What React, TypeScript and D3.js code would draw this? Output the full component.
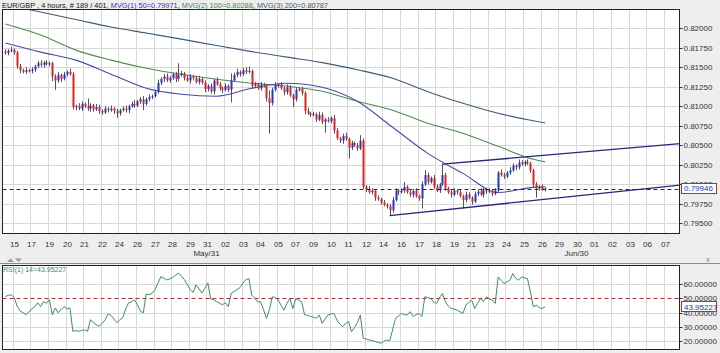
import React, { useEffect, useRef } from 'react';
import * as d3 from 'd3';

const W = 720;
const H = 353;

// 4h closes, EUR/GBP (open = previous close)
const firstOpen = 0.8170;
const closes = [
  0.8168, 0.8171, 0.8172, 0.8169, 0.8151, 0.8146, 0.8144, 0.8146, 0.8145, 0.8147,
  0.8151, 0.8155, 0.8153, 0.8156, 0.8154, 0.8155, 0.8138, 0.8133, 0.8140, 0.8135,
  0.8141, 0.8144, 0.8141, 0.8099, 0.8100, 0.8097, 0.8103, 0.8100, 0.8097, 0.8101,
  0.8096, 0.8099, 0.8094, 0.8092, 0.8097, 0.8095, 0.8097, 0.8094, 0.8091, 0.8095,
  0.8097, 0.8095, 0.8100, 0.8103, 0.8101, 0.8106, 0.8109, 0.8103, 0.8109, 0.8112,
  0.8113, 0.8118, 0.8130, 0.8135, 0.8138, 0.8133, 0.8136, 0.8141, 0.8135, 0.8140,
  0.8142, 0.8136, 0.8133, 0.8138, 0.8136, 0.8131, 0.8135, 0.8130, 0.8122, 0.8126,
  0.8119, 0.8133, 0.8128, 0.8123, 0.8121, 0.8126, 0.8121, 0.8133, 0.8140, 0.8144,
  0.8141, 0.8146, 0.8144, 0.8145, 0.8126, 0.8128, 0.8123, 0.8127, 0.8126, 0.8110,
  0.8104, 0.8121, 0.8127, 0.8128, 0.8123, 0.8118, 0.8124, 0.8114, 0.8109, 0.8121,
  0.8122, 0.8117, 0.8094, 0.8091, 0.8089, 0.8090, 0.8083, 0.8089, 0.8080, 0.8083,
  0.8081, 0.8085, 0.8069, 0.8059, 0.8056, 0.8062, 0.8058, 0.8047, 0.8053, 0.8050,
  0.8046, 0.8056, 0.7997, 0.7994, 0.7990, 0.7992, 0.7983, 0.7981, 0.7977, 0.7974,
  0.7972, 0.7967, 0.7980, 0.7992, 0.7990, 0.7992, 0.7997, 0.7990, 0.7987, 0.7992,
  0.7985, 0.7982, 0.8000, 0.8012, 0.8003, 0.8008, 0.7997, 0.7992, 0.8000, 0.8012,
  0.7995, 0.7990, 0.7987, 0.7992, 0.7990, 0.7985, 0.7980, 0.7987, 0.7983, 0.7978,
  0.7988, 0.7991, 0.7987, 0.7994, 0.7991, 0.7992, 0.7988, 0.7992, 0.8015, 0.8012,
  0.8010, 0.8015, 0.8018, 0.8024, 0.8022, 0.8028, 0.8026, 0.8029, 0.8027, 0.8018,
  0.8000, 0.7995, 0.7997, 0.7994, 0.79946,
];
// wick lengths in pips above / below the body
const wickUp = [
  3, 2, 4, 2, 2, 3, 2, 4, 2, 3, 2, 3, 4, 2, 3, 2, 2, 3, 4, 2,
  3, 2, 4, 3, 2, 4, 3, 2, 10, 3, 2, 4, 3, 2, 3, 2, 4, 2, 3, 2,
  3, 4, 2, 3, 5, 2, 3, 4, 2, 3, 2, 3, 4, 2, 3, 4, 3, 2, 3, 15,
  3, 2, 4, 3, 2, 3, 4, 2, 3, 2, 3, 2, 4, 3, 2, 3, 2, 9, 3, 4,
  2, 3, 4, 6, 2, 3, 2, 4, 3, 2, 10, 3, 4, 2, 3, 2, 4, 3, 2, 3,
  2, 3, 2, 4, 2, 3, 2, 4, 3, 2, 3, 2, 4, 3, 2, 3, 4, 2, 3, 2,
  3, 7, 3, 2, 4, 3, 2, 3, 2, 3, 2, 3, 4, 3, 2, 3, 6, 2, 3, 2,
  3, 2, 4, 6, 3, 2, 4, 3, 2, 14, 3, 2, 4, 3, 2, 3, 2, 4, 3, 2,
  3, 2, 4, 3, 2, 3, 2, 3, 2, 4, 3, 2, 4, 3, 2, 4, 3, 2, 3, 2,
  2, 3, 2, 3, 2,
];
const wickDn = [
  2, 3, 2, 3, 3, 4, 2, 3, 2, 3, 3, 2, 3, 4, 2, 3, 6, 12, 3, 4,
  2, 3, 2, 3, 4, 2, 3, 2, 3, 4, 3, 2, 4, 3, 2, 3, 2, 4, 6, 3,
  2, 3, 4, 2, 3, 2, 3, 8, 2, 3, 3, 2, 2, 3, 4, 2, 3, 2, 4, 3,
  2, 3, 2, 4, 3, 2, 3, 2, 4, 3, 3, 4, 2, 3, 4, 2, 3, 16, 2, 3,
  3, 2, 3, 2, 4, 3, 2, 3, 2, 4, 39, 3, 2, 3, 2, 4, 3, 2, 10, 3,
  2, 3, 4, 2, 3, 2, 3, 2, 3, 14, 2, 3, 4, 2, 3, 4, 2, 14, 3, 2,
  3, 2, 3, 4, 2, 3, 4, 2, 3, 2, 3, 7, 3, 2, 4, 2, 3, 2, 3, 4,
  2, 3, 13, 2, 3, 2, 3, 2, 3, 2, 3, 2, 4, 2, 3, 2, 11, 3, 2, 4,
  2, 3, 2, 4, 3, 2, 3, 2, 3, 2, 3, 2, 3, 2, 4, 3, 2, 3, 2, 3,
  4, 12, 3, 2, 3,
];

const rsiValues = [
  51.2, 52.0, 52.4, 50.5, 44.5, 41.0, 40.0, 38.5, 40.5, 42.5,
  44.0, 46.8, 44.2, 47.7, 46.5, 48.9, 38.5, 43.3, 39.8, 42.0,
  44.2, 42.5, 43.3, 26.9, 27.5, 26.9, 27.5, 28.0, 26.9, 35.0,
  32.9, 31.5, 30.4, 32.5, 35.0, 39.0, 38.0, 35.5, 32.9, 35.0,
  36.4, 42.5, 46.8, 47.5, 48.9, 45.5, 41.0, 39.8, 53.0, 52.4,
  53.5, 56.0, 60.5, 65.1, 64.0, 62.8, 63.5, 64.5, 66.0, 67.6,
  65.5, 63.0, 59.5, 56.0, 54.0, 59.3, 56.5, 53.6, 57.0, 60.7,
  49.5, 48.9, 47.7, 46.5, 45.4, 46.8, 44.2, 53.6, 54.7, 56.0,
  57.5, 60.5, 63.0, 63.7, 52.1, 50.0, 47.5, 47.5, 42.0, 35.9,
  42.0, 51.0, 50.5, 48.7, 45.0, 41.7, 46.5, 49.8, 42.8, 49.8,
  48.5, 47.5, 38.3, 38.0, 37.3, 36.8, 35.9, 38.3, 32.5, 35.5,
  38.3, 39.0, 39.4, 34.8, 32.0, 30.1, 32.5, 33.6, 26.7, 29.5,
  33.0, 38.3, 22.0, 21.5, 20.9, 20.5, 19.8, 19.2, 18.6, 19.8,
  20.9, 20.2, 27.8, 35.9, 37.5, 39.4, 38.5, 38.3, 40.6, 37.1,
  38.5, 39.4, 37.1, 51.0, 50.5, 49.8, 47.5, 46.3, 50.5, 53.3,
  47.5, 44.5, 42.8, 42.5, 41.7, 40.5, 39.4, 45.2, 47.0, 48.7,
  42.8, 46.5, 49.8, 47.5, 51.0, 49.5, 48.7, 46.3, 64.9, 62.5,
  60.2, 61.5, 62.6, 67.2, 64.0, 62.6, 64.9, 64.3, 63.7, 54.4,
  44.0, 45.2, 43.5, 42.8, 43.95,
];

// moving averages read at every 12th bar
const maBars = [0, 12, 24, 36, 48, 60, 72, 84, 96, 108, 120, 132, 144, 156, 168, 180, 184];
const ma50 = [0.81808, 0.81692, 0.81590, 0.81410, 0.81231, 0.81154, 0.81128, 0.81231, 0.81295, 0.81244, 0.81064, 0.80731, 0.80397, 0.80141, 0.79897, 0.79962, 0.79971];
const ma100 = [0.82051, 0.81910, 0.81718, 0.81590, 0.81487, 0.81410, 0.81346, 0.81295, 0.81256, 0.81192, 0.81064, 0.80949, 0.80782, 0.80654, 0.80487, 0.80321, 0.80288];
const ma200 = [0.82299, 0.82205, 0.82109, 0.82013, 0.81936, 0.81859, 0.81776, 0.81699, 0.81628, 0.81558, 0.81467, 0.81359, 0.81186, 0.81038, 0.80910, 0.80814, 0.80787];

const priceTicks = [0.795, 0.7975, 0.8, 0.8025, 0.805, 0.8075, 0.81, 0.8125, 0.815, 0.8175, 0.82];
const rsiTicks = [20, 30, 40, 50, 60];
const dayLabels = [
  '15', '17', '19', '20', '21', '22', '24', '26', '27', '28', '29', '31', '02', '03', '04', '05', '07', '09', '10',
  '11', '12', '14', '16', '17', '18', '19', '21', '23', '24', '25', '26', '29', '30', '01', '02', '03', '06', '07',
];
const monthLabels = [{ text: 'May/31', day: 11 }, { text: 'Jun/30', day: 32 }];

// drawn trend lines [bar, price]
const trendLines = [
  [[149, 0.8026], [230, 0.80523]],
  [[131, 0.7960], [230, 0.79992]],
];
const lastPrice = 0.79946;
const lastRsi = 43.95227;

const titleParts = [
  ['EUR/GBP , 4 hours, # 189 / 401, ', '#111'],
  ['MVG(1) 50=0.79971', '#3535b5'],
  [', ', '#111'],
  ['MVG(2) 100=0.80288', '#3f8a3f'],
  [', ', '#111'],
  ['MVG(3) 200=0.80787', '#33607a'],
];

const FONT = 'Liberation Sans, Arial, sans-serif';

export default function App() {
  const ref = useRef<SVGSVGElement>(null);

  useEffect(() => {
    const svg = d3.select(ref.current);
    svg.selectAll('*').remove();

    const main = { left: 2.5, right: 679.5, top: 9.5, bottom: 233.5 };
    const low = { top: 265.5, bottom: 349.5 };

    const x = d3.scaleLinear().domain([-1, 230]).range([2.5, 680]);
    const y = d3.scaleLinear().domain([0.79372, 0.82244]).range([main.bottom, main.top - 0.5]);
    const yr = d3.scaleLinear().domain([14.2, 73.2]).range([low.bottom, low.top - 0.5]);

    svg.append('rect').attr('width', W).attr('height', H).attr('fill', '#eeeeee');

    const defs = svg.append('defs');
    defs.append('clipPath').attr('id', 'clipMain').append('rect')
      .attr('x', main.left).attr('y', main.top).attr('width', main.right - main.left).attr('height', main.bottom - main.top);
    defs.append('clipPath').attr('id', 'clipLow').append('rect')
      .attr('x', main.left).attr('y', low.top).attr('width', main.right - main.left).attr('height', low.bottom - low.top);

    // panel backgrounds
    svg.append('rect').attr('x', main.left).attr('y', main.top)
      .attr('width', main.right - main.left).attr('height', main.bottom - main.top).attr('fill', '#fff');
    svg.append('rect').attr('x', main.left).attr('y', low.top)
      .attr('width', main.right - main.left).attr('height', low.bottom - low.top).attr('fill', '#fff');

    const dayX = dayLabels.map((_, k) => Math.round(x(2.5 + k * 6)) + 0.5);

    // grids
    const grid = svg.append('g').attr('stroke', '#d8d8d8').attr('stroke-width', 1);
    dayX.forEach(gx => {
      grid.append('line').attr('x1', gx).attr('x2', gx).attr('y1', main.top).attr('y2', main.bottom);
      grid.append('line').attr('x1', gx).attr('x2', gx).attr('y1', low.top).attr('y2', low.bottom);
    });
    priceTicks.forEach(p => {
      const gy = Math.round(y(p)) + 0.5;
      grid.append('line').attr('x1', main.left).attr('x2', main.right).attr('y1', gy).attr('y2', gy);
    });
    rsiTicks.filter(v => v !== 50).forEach(v => {
      const gy = Math.round(yr(v)) + 0.5;
      grid.append('line').attr('x1', main.left).attr('x2', main.right).attr('y1', gy).attr('y2', gy);
    });

    // moving averages
    const gMain = svg.append('g').attr('clip-path', 'url(#clipMain)');
    const maLine = (vals: number[]) => d3.line<number>()
      .x((_, i) => x(maBars[i]))
      .y(d => y(d))
      .curve(d3.curveMonotoneX)(vals);
    [[ma200, '#3d5c7a'], [ma100, '#4f8a4f'], [ma50, '#4a4aa8']].forEach(([vals, col]) => {
      gMain.append('path').attr('d', maLine(vals as number[]) as string)
        .attr('fill', 'none').attr('stroke', col as string).attr('stroke-width', 1.1);
    });

    // candles
    const candles = closes.map((c, i) => {
      const o = i === 0 ? firstOpen : closes[i - 1];
      return {
        i, o, c,
        h: Math.max(o, c) + wickUp[i] * 0.0001,
        l: Math.min(o, c) - wickDn[i] * 0.0001,
      };
    });
    const cg = gMain.append('g');
    candles.forEach(d => {
      const cx = Math.round(x(d.i)) + 0.5;
      cg.append('line').attr('x1', cx).attr('x2', cx).attr('y1', y(d.h)).attr('y2', y(d.l))
        .attr('stroke', '#555').attr('stroke-width', 1);
      const top = y(Math.max(d.o, d.c));
      const bot = y(Math.min(d.o, d.c));
      cg.append('rect').attr('x', cx - 1).attr('y', top).attr('width', 2)
        .attr('height', Math.max(1, bot - top))
        .attr('fill', d.c >= d.o ? '#2435d0' : '#e0231f');
    });

    // trend lines
    trendLines.forEach(([a, b]) => {
      gMain.append('line').attr('x1', x(a[0])).attr('y1', y(a[1])).attr('x2', x(b[0])).attr('y2', y(b[1]))
        .attr('stroke', '#26267a').attr('stroke-width', 1.3);
    });

    // last price dashed line
    const lpY = Math.round(y(lastPrice)) + 0.5;
    gMain.append('line').attr('x1', main.left).attr('x2', main.right).attr('y1', lpY).attr('y2', lpY)
      .attr('stroke', '#22228a').attr('stroke-width', 1).attr('stroke-dasharray', '4,3');

    // RSI
    const gLow = svg.append('g').attr('clip-path', 'url(#clipLow)');
    const r50 = Math.round(yr(50)) + 0.5;
    gLow.append('line').attr('x1', main.left).attr('x2', main.right).attr('y1', r50).attr('y2', r50)
      .attr('stroke', '#a33030').attr('stroke-width', 1).attr('stroke-dasharray', '4,3');
    gLow.append('path')
      .attr('d', d3.line<number>().x((_, i) => x(i)).y(d => yr(d))(rsiValues) as string)
      .attr('fill', 'none').attr('stroke', '#3a8f68').attr('stroke-width', 1);

    // panel borders
    [[main.top, main.bottom], [low.top, low.bottom]].forEach(([t, b]) => {
      svg.append('rect').attr('x', main.left).attr('y', t).attr('width', main.right - main.left)
        .attr('height', b - t).attr('fill', 'none').attr('stroke', '#222').attr('stroke-width', 1);
    });

    // right axes
    const axisG = svg.append('g').attr('font-family', FONT).attr('font-size', 8).attr('fill', '#333');
    priceTicks.forEach(p => {
      const ty = Math.round(y(p)) + 0.5;
      axisG.append('line').attr('x1', main.right).attr('x2', main.right + 3).attr('y1', ty).attr('y2', ty).attr('stroke', '#333');
      axisG.append('text').attr('x', main.right + 4).attr('y', ty).attr('dy', '0.35em').text(p.toFixed(5));
    });
    rsiTicks.forEach(v => {
      const ty = Math.round(yr(v)) + 0.5;
      axisG.append('line').attr('x1', main.right).attr('x2', main.right + 3).attr('y1', ty).attr('y2', ty).attr('stroke', '#333');
      axisG.append('text').attr('x', main.right + 4).attr('y', ty).attr('dy', '0.35em').text(v.toFixed(5));
    });

    // value boxes
    const box = (vy: number, txt: string) => {
      axisG.append('rect').attr('x', 681.5).attr('y', Math.round(vy) - 5.5).attr('width', 35).attr('height', 10)
        .attr('fill', '#fff').attr('stroke', '#b03030');
      axisG.append('text').attr('x', 684).attr('y', vy).attr('dy', '0.35em').attr('fill', '#2434b8').text(txt);
    };
    box(y(lastPrice), lastPrice.toFixed(5));
    box(yr(lastRsi), lastRsi.toFixed(5));

    // x labels
    const xl = svg.append('g').attr('font-family', FONT).attr('font-size', 8).attr('fill', '#333').attr('text-anchor', 'middle');
    dayLabels.forEach((t, k) => {
      xl.append('text').attr('x', dayX[k] + 1).attr('y', 246.5).text(t);
    });
    monthLabels.forEach(m => {
      xl.append('text').attr('x', dayX[m.day]).attr('y', 256).text(m.text);
    });

    // separator, arrows, close mark
    svg.append('line').attr('x1', 0).attr('x2', W).attr('y1', 263.5).attr('y2', 263.5).attr('stroke', '#8a8a8a');
    svg.append('path').attr('d', 'M7,262 L10.5,258.5 L14,262 Z').attr('fill', '#8d9aa8');
    svg.append('path').attr('d', 'M15,258.5 L22,258.5 L18.5,262 Z').attr('fill', '#8d9aa8');
    svg.append('text').attr('x', 708).attr('y', 262).attr('font-family', FONT).attr('font-size', 8)
      .attr('fill', '#8a8a8a').attr('text-anchor', 'middle').text('x');

    // title: separate pieces laid out one after another, scaled to fit 326px
    const tg = svg.append('g').attr('font-family', FONT);
    const pieces = titleParts.map(([t, c]) =>
      tg.append('text').attr('y', 7.5).attr('font-size', 8).attr('fill', c).attr('xml:space', 'preserve').text(t));
    const widths = pieces.map(p => (p.node() as SVGTextElement).getComputedTextLength());
    const k = 326 / d3.sum(widths);
    let cx = 2;
    pieces.forEach((p, i) => {
      p.attr('font-size', 8 * k).attr('x', cx);
      cx += widths[i] * k;
    });

    svg.append('text').attr('x', 3).attr('y', 272).attr('font-family', FONT).attr('font-size', 7)
      .attr('fill', '#3a8f68')
      .text('RSI(1) 14=' + lastRsi.toFixed(5));
  }, []);

  return (
    <svg ref={ref} width={W} height={H}
      style={{ position: 'absolute', left: 0, top: 0, display: 'block' }} />
  );
}
